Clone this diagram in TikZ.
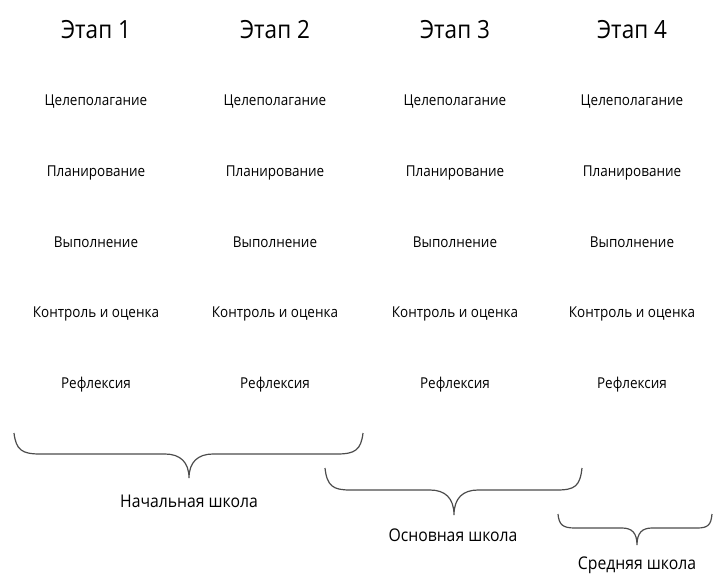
\documentclass[tikz,border=0pt]{standalone}
\usepackage{fontspec}
\setmainfont{Open Sans}[FakeStretch=0.9]

\begin{document}
\begin{tikzpicture}[x=1pt,y=-1pt,
  etap/.style={anchor=base,font=\fontsize{25}{25}\selectfont},
  shag/.style={anchor=base,font=\fontsize{15}{15}\selectfont},
  shkola/.style={anchor=base,font=\fontsize{17.5}{17.5}\selectfont},
  skobka/.style={draw=black!70,line width=1.2pt}]
\useasboundingbox (0,0) rectangle (713,574);
\foreach \x [count=\i] in {96,275,455,632} {
  \node[etap] (etap\i) at (\x,38) {Этап \i};
  \foreach \t [count=\j] in {Целеполагание,Планирование,Выполнение,Контроль и оценка,Рефлексия}
    \node[shag] (shag\i\j) at (\x,34.75+70.75*\j) {\t};
}
% braces
\draw[skobka] (14,433) .. controls (16,450) and (22,454) .. (40,454) -- (165,454)
  .. controls (180,454) and (189,462) .. (189,478)
  .. controls (189,462) and (198,454) .. (213,454) -- (337,454)
  .. controls (355,454) and (361,450) .. (363,433);
\draw[skobka] (325,468) .. controls (327,486) and (333,490) .. (350,490) -- (430,490)
  .. controls (445,490) and (454,498) .. (454,515)
  .. controls (454,498) and (463,490) .. (478,490) -- (557,490)
  .. controls (575,490) and (580,486) .. (582,468);
\draw[skobka] (558,514) .. controls (559,525) and (563,528) .. (575,528) -- (622,528)
  .. controls (632,528) and (637,533) .. (637,545)
  .. controls (637,533) and (642,528) .. (652,528) -- (697,528)
  .. controls (708,528) and (711,525) .. (712,514);
\node[shkola] (nach) at (189,507) {Начальная школа};
\node[shkola] (osn) at (453,541) {Основная школа};
\node[shkola] (sred) at (637,569) {Средняя школа};
\end{tikzpicture}
\end{document}
